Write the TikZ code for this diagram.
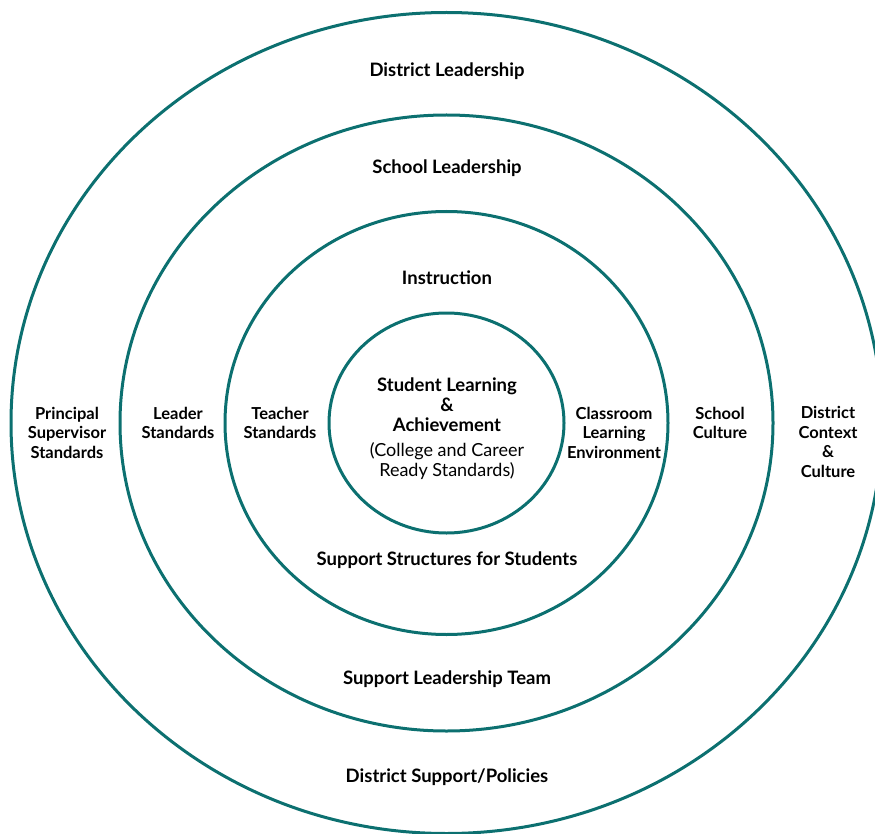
\documentclass[tikz,border=0pt]{standalone}
\usepackage{fontspec}
\setmainfont{Lato}
\definecolor{ringteal}{RGB}{12,112,112}
\begin{document}
\begin{tikzpicture}[x=1pt,y=-1pt,
  ring/.style={draw=ringteal,line width=3pt},
  lbl/.style={font=\fontsize{18.5}{20}\selectfont\bfseries,align=center,inner sep=0pt,text=black},
  side/.style={font=\fontsize{16.5}{19.5}\selectfont\bfseries,align=center,inner sep=0pt,text=black},
  lblr/.style={font=\fontsize{18}{20}\selectfont,align=center,inner sep=0pt,text=black}]
\useasboundingbox (0,0) rectangle (875,834);
\coordinate (c) at (446.5,423);
\draw[ring] (c) ellipse [x radius=435.5, y radius=410.5];
\draw[ring] (c) ellipse [x radius=326.5, y radius=308];
\draw[ring] (c) ellipse [x radius=221.5, y radius=211.5];
\draw[ring] (c) ellipse [x radius=117.5, y radius=110];

\node[lbl] (dl) at (447,71) {District Leadership};
\node[lbl] (sl) at (447,168) {School Leadership};
\node[lbl] (ins) at (447,278) {Instruction};
\node[lbl] (sla) at (447,405) {Student Learning\\\&\\Achievement};
\node[lblr] (ccr) at (447,461) {(College and Career\\Ready Standards)};
\node[side] (pss) at (67,432.5) {Principal\\Supervisor\\Standards};
\node[side] (ls) at (178,423) {Leader\\Standards};
\node[side] (ts) at (280,423) {Teacher\\Standards};
\node[side] (cle) at (614,432.5) {Classroom\\Learning\\Environment};
\node[side] (sc) at (720,423) {School\\Culture};
\node[side] (dcc) at (828,442) {District\\Context\\\&\\Culture};
\node[lbl] (sss) at (447,560) {Support Structures for Students};
\node[lbl] (slt) at (447,679) {Support Leadership Team};
\node[lbl] (dsp) at (447,777) {District Support/Policies};
\end{tikzpicture}
\end{document}
